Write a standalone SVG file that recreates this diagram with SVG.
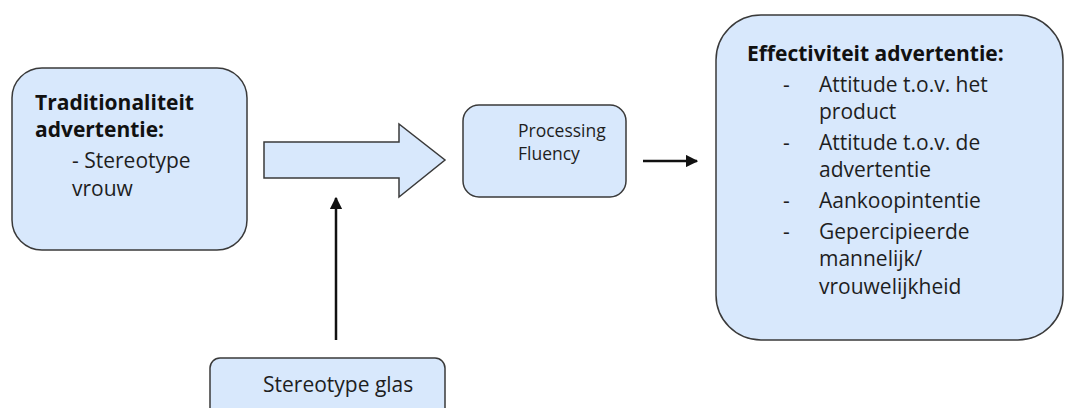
<svg xmlns="http://www.w3.org/2000/svg" width="1065" height="408" viewBox="0 0 1065 408">
<style>
.box{fill:#d8e8fc;stroke:#3a3a3a;stroke-width:1.5}
.t{font-family:"Open Sans","Liberation Sans",sans-serif;font-size:21px;fill:#1e1e1e}
.b{font-weight:bold;fill:#111}
.s{font-size:17.5px}
.ln{stroke:#111;stroke-width:2.5;fill:none}
</style>
<defs>
<marker id="ah" viewBox="0 0 10 10" refX="9" refY="5" markerWidth="5" markerHeight="5" orient="auto" markerUnits="strokeWidth">
<path d="M0,0 L10,5 L0,10 z" fill="#111"/>
</marker>
</defs>
<rect width="1065" height="408" fill="#fff"/>
<g id="traditionaliteit">
<rect class="box" x="12" y="68" width="235" height="182" rx="30"/>
<text class="t b" x="35" y="110">Traditionaliteit</text>
<text class="t b" x="35" y="137">advertentie:</text>
<text class="t" x="72" y="168">- Stereotype</text>
<text class="t" x="72" y="196">vrouw</text>
</g>
<g id="blockarrow">
<path class="box" d="M264,142 L399,142 L399,124 L445,160 L399,197 L399,178 L264,178 Z"/>
</g>
<g id="processing">
<rect class="box" x="463" y="105" width="163" height="92" rx="16"/>
<text class="t s" x="518" y="137">Processing</text>
<text class="t s" x="518" y="160">Fluency</text>
</g>
<g id="effectiviteit">
<rect class="box" x="716" y="15" width="347" height="325" rx="45"/>
<text class="t b" x="747" y="61">Effectiviteit advertentie:</text>
<text class="t" x="783" y="92">-</text>
<text class="t" x="819" y="92">Attitude t.o.v. het</text>
<text class="t" x="819" y="119">product</text>
<text class="t" x="783" y="150">-</text>
<text class="t" x="819" y="150">Attitude t.o.v. de</text>
<text class="t" x="819" y="177">advertentie</text>
<text class="t" x="783" y="208">-</text>
<text class="t" x="819" y="208">Aankoopintentie</text>
<text class="t" x="783" y="239">-</text>
<text class="t" x="819" y="239">Gepercipieerde</text>
<text class="t" x="819" y="266">mannelijk/</text>
<text class="t" x="819" y="294">vrouwelijkheid</text>
</g>
<g id="stereotypeglas">
<rect class="box" x="210" y="358" width="235" height="70" rx="10"/>
<text class="t" x="263" y="392">Stereotype glas</text>
</g>
<g id="connectors">
<line class="ln" x1="643" y1="161" x2="697" y2="161" marker-end="url(#ah)"/>
<line class="ln" x1="336" y1="340" x2="336" y2="198" marker-end="url(#ah)"/>
</g>
</svg>
